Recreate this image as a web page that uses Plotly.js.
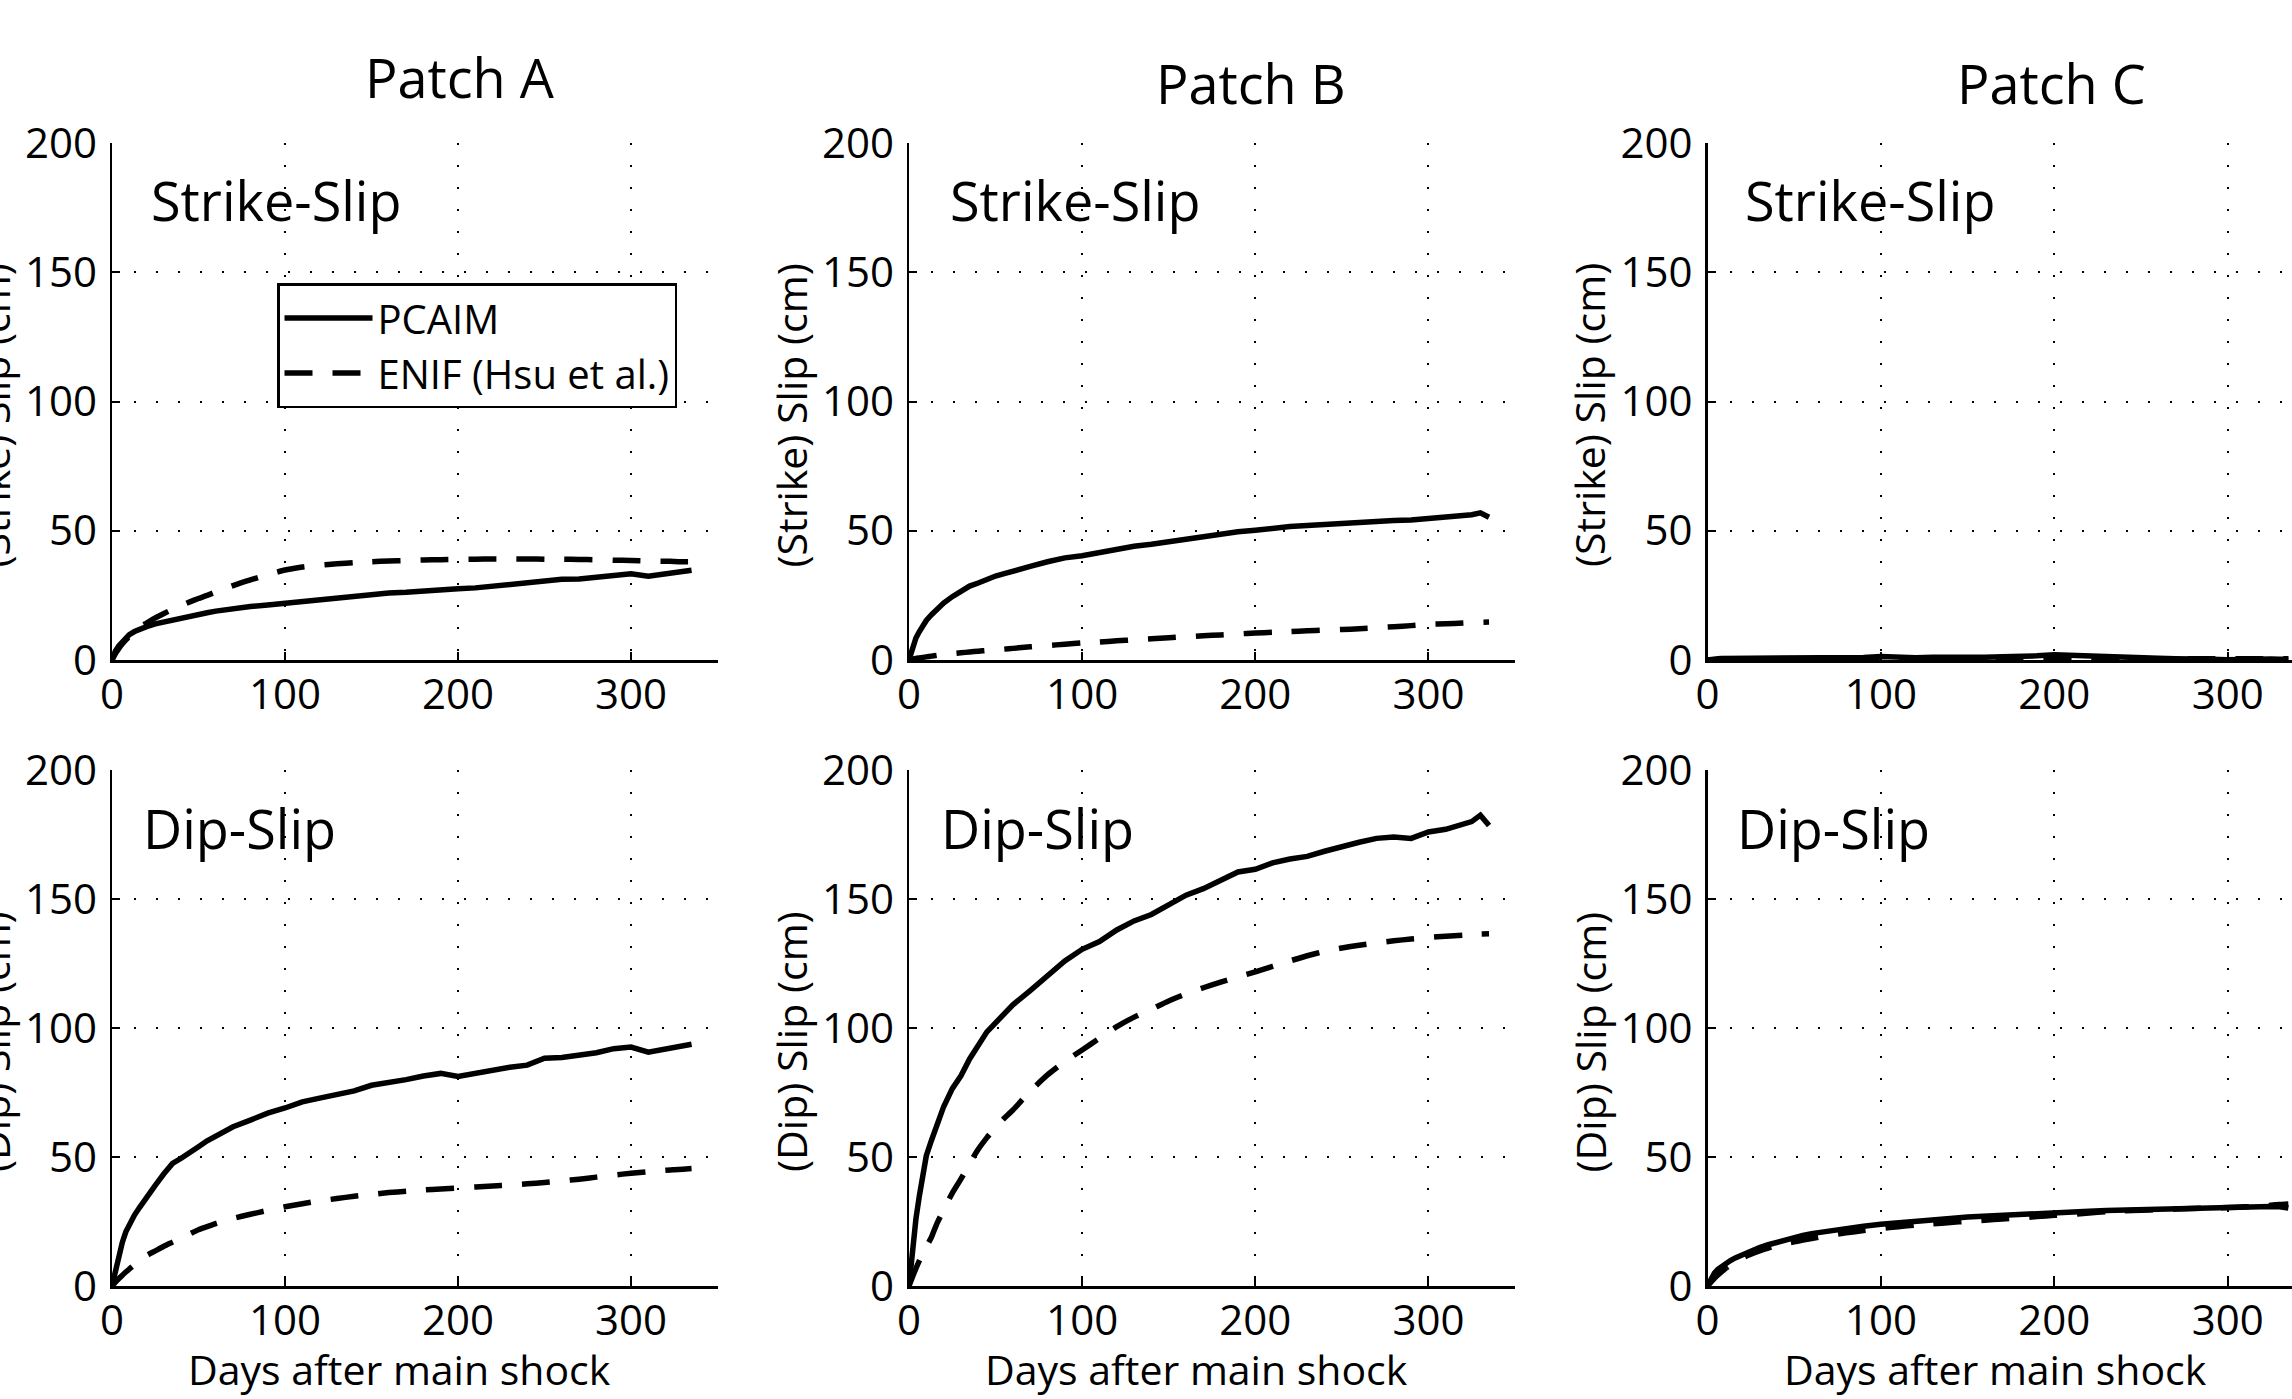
<!DOCTYPE html>
<html><head><meta charset="utf-8">
<script src="https://cdn.plot.ly/plotly-3.0.1.min.js"></script>
<style>html,body{margin:0;padding:0;background:#fff;}#chart{width:2292px;height:1399px;}</style>
</head><body><div id="chart"></div>
<script>
// ---------------- data ----------------
const days = [0,2,4,6,8,10,13,16,20,25,30,35,40,45,50,55,60,70,80,90,100,110,120,130,140,150,160,170,180,190,200,210,220,230,240,250,260,270,280,290,300,310,320,325,330,335];

const patchNames = ['Patch A', 'Patch B', 'Patch C'];
const componentLabels = ['Strike-Slip', 'Dip-Slip'];
const yAxisTitles = ['(Strike) Slip (cm)', '(Dip) Slip (cm)'];
const xAxisTitle = 'Days after main shock';
const seriesNames = ['PCAIM', 'ENIF (Hsu et al.)'];
const xTickVals = [0, 100, 200, 300];
const yTickVals = [0, 50, 100, 150, 200];

// Strike-slip, PCAIM
const pcaimStrikeA = [0,3.5,5.5,7.2,8.6,9.8,11,12,12.9,14,14.8,15.6,16.3,17,17.6,18.3,18.9,19.9,20.7,21.3,22,22.7,23.3,24.1,24.7,25.4,25.9,26.2,26.8,27.1,27.6,27.9,28.6,29.1,29.8,30.6,31.2,31.3,32,32.4,33.4,32.4,33.5,33.8,34.1,34.7];
const pcaimStrikeB = [0,5,8.5,11,13.5,15.3,17.5,19.5,22,24.5,26.8,28.6,29.8,31.2,32.5,33.4,34.5,36.2,38,39.5,40.3,41.5,43,44,44.8,45.8,46.9,47.8,48.5,49.6,50.2,51,51.6,52,52.4,52.9,53.6,53.9,54,54.2,54.7,55.4,55.7,56.2,56.9,55.2];
const pcaimStrikeC = [0,0.3,0.5,0.5,0.6,0.6,0.7,0.6,0.7,0.8,0.7,0.8,0.9,0.8,0.9,1.0,0.9,1.0,1.1,1.0,1.4,1.0,0.9,1.1,1.0,1.2,1.1,1.3,1.2,1.6,2.0,1.7,1.4,1.3,1.1,0.8,0.7,0.5,0.6,0.3,0.1,0.4,0.5,0.4,0.3,0.3];
// Strike-slip, ENIF
const enifStrikeA = [0,2.5,4.5,6.3,7.8,9.2,11,12.8,14.3,16.3,18,19.6,21.1,22.5,23.8,25,26.3,28.8,31,33,34.8,36,36.7,37.2,37.7,38,38.3,38.5,38.7,38.8,38.9,39,39.1,39.1,39.1,39,39,38.9,38.8,38.6,38.5,38.3,38.2,38.1,38,38];
const enifStrikeB = [0,0.3,0.6,0.8,1.0,1.2,1.5,1.8,2.1,2.5,2.8,3.1,3.4,3.7,3.9,4.2,4.5,5.1,5.6,6.1,6.6,7.0,7.4,7.8,8.2,8.6,9.0,9.4,9.7,10.1,10.4,10.7,11.0,11.3,11.6,11.8,12.1,12.5,12.9,13.3,13.8,14.0,14.3,14.5,14.6,14.7];
const enifStrikeC = [0,0.05,0.1,0.1,0.15,0.15,0.2,0.2,0.2,0.25,0.25,0.3,0.3,0.3,0.3,0.35,0.35,0.35,0.4,0.4,0.4,0.4,0.4,0.45,0.45,0.45,0.45,0.45,0.5,0.5,0.5,0.5,0.5,0.5,0.5,0.5,0.5,0.5,0.5,0.5,0.5,0.5,0.5,0.5,0.5,0.5];
// Dip-slip, PCAIM
const pcaimDipA = [0,6,11,17,21,24,27.5,30.5,34.5,39,43.5,47.5,49.5,52,54,56.3,58.2,61.7,64.3,67,69,71.4,72.8,74.2,75.6,77.8,78.7,80,81.4,82.4,81.2,82.4,84.1,84.8,85.6,88.3,88.6,89.5,90.4,92,92.6,90.6,92,92.8,93,93.7];
const pcaimDipB = [0,14,26,35,44,50.5,56.5,62,69.5,76.5,81.5,88,93.5,98.5,102,105.5,109,114.5,120,126,130.5,133.5,138,141.5,144,148,151.5,154,157,160.5,161.5,164,165.5,166.5,168.5,170.5,172,173.5,174,173.5,176,177,179,180,182.5,178.5];
const pcaimDipC = [0,3,5,6.5,7.5,8.6,9.8,10.9,12.2,13.7,14.9,16,17,18,18.9,19.6,20.3,21.4,22.4,23.2,23.9,24.6,25.2,25.7,26.2,26.7,27.1,27.5,27.8,28.1,28.4,28.7,29,29.3,29.5,29.7,29.9,30,30.1,30.3,30.4,30.6,30.9,30.8,30.7,30.2];
// Dip-slip, ENIF
const enifDipA = [0,1.5,2.9,4.2,5.4,6.6,8.3,10,11.8,13.6,15.4,17,18.6,20.2,21.8,23,24.2,26.2,27.8,29.3,30.7,31.9,33,33.9,34.8,35.5,36.2,36.7,37.2,37.6,38,38.4,38.8,39.2,39.6,40.1,40.7,41.4,42.2,43,43.7,44.3,44.9,45.1,45.3,45.5];
const enifDipB = [0,3.5,6.8,9.8,12.7,15.2,19,24,29.5,36,41.5,47.5,53,57.5,61.5,65,68.2,75.5,81.8,87,91.5,96,100.5,104.2,107.3,110.5,113.2,115.6,117.8,119.8,121.8,123.9,126,128,129.7,131,132.1,133,133.8,134.5,135.1,135.6,136,136.2,136.4,136.5];
const enifDipC = [0,1.5,3,4.3,5.5,6.6,8,9.3,10.8,12.3,13.6,14.7,15.6,16.4,17.1,17.8,18.4,19.6,20.6,21.5,22.3,23,23.6,24.1,24.6,25.1,25.5,26,26.4,26.9,27.4,27.8,28.3,28.8,29.1,29.4,29.6,29.8,30,30.2,30.4,30.7,31,31.3,31.6,31.8];

// ---------------- layout helpers ----------------
const W = 2292, H = 1399;
const FONT = 'Open Sans, sans-serif';
const colX = [[112, 717.5, 350], [909, 1515, 350], [1707.5, 2292, 337.1]]; // px left, px right, x max
const rowY = [[143, 660], [770, 1286]]; // px top (200), px bottom (0)

const pcaim = [[pcaimStrikeA, pcaimStrikeB, pcaimStrikeC], [pcaimDipA, pcaimDipB, pcaimDipC]];
const enif = [[enifStrikeA, enifStrikeB, enifStrikeC], [enifDipA, enifDipB, enifDipC]];

const traces = [];
const layout = {
  width: W, height: H,
  margin: {l: 0, r: 0, t: 0, b: 0},
  paper_bgcolor: '#fff', plot_bgcolor: 'rgba(0,0,0,0)',
  font: {family: FONT, color: '#000', size: 42},
  showlegend: true,
  legend: {
    x: 277 / W, y: 1 - 283 / H, xanchor: 'left', yanchor: 'top',
    bgcolor: '#fff', bordercolor: '#000', borderwidth: 2.5,
    font: {family: FONT, size: 40, color: '#000'},
    tracegroupgap: 0, itemwidth: 88
  },
  annotations: []
};

let n = 0;
for (let r = 0; r < 2; r++) {
  for (let c = 0; c < 3; c++) {
    n++;
    const xa = n === 1 ? 'x' : 'x' + n;
    const ya = n === 1 ? 'y' : 'y' + n;
    traces.push({
      x: days, y: pcaim[r][c], xaxis: xa, yaxis: ya, type: 'scatter', mode: 'lines',
      name: seriesNames[0], legendgroup: 'p', showlegend: n === 1,
      line: {color: '#000', width: 5.5}
    });
    traces.push({
      x: days, y: enif[r][c], xaxis: xa, yaxis: ya, type: 'scatter', mode: 'lines',
      name: seriesNames[1], legendgroup: 'e', showlegend: n === 1,
      line: {color: '#000', width: 5.5, dash: '28px,20px', shape: 'spline', smoothing: 0.6}
    });
    const common = {
      showline: true, linecolor: '#000', linewidth: 2.5,
      ticks: 'inside', ticklen: 8, tickwidth: 2, tickcolor: '#000',
      showgrid: true, gridcolor: '#000', gridwidth: 2, griddash: '2px,20px',
      zeroline: false, fixedrange: true, automargin: false,
      tickfont: {family: FONT, size: 42, color: '#000'}
    };
    layout['xaxis' + (n === 1 ? '' : n)] = Object.assign({}, common, {
      domain: [colX[c][0] / W, colX[c][1] / W],
      range: [0, colX[c][2]], tickvals: xTickVals, ticktext: xTickVals.map(String),
      anchor: ya, ticklabelstandoff: -4
    });
    layout['yaxis' + (n === 1 ? '' : n)] = Object.assign({}, common, {
      domain: [1 - rowY[r][1] / H, 1 - rowY[r][0] / H],
      range: [0, 200], tickvals: yTickVals, ticktext: yTickVals.map(String),
      anchor: xa, ticklabelstandoff: 4
    });
    // y-axis title (rotated), placed left of the tick labels
    layout.annotations.push({
      text: yAxisTitles[r], xref: 'paper', yref: 'paper', textangle: -90,
      x: (colX[c][0] - 118) / W, y: 1 - ((rowY[r][0] + rowY[r][1]) / 2 + 14) / H,
      xanchor: 'center', yanchor: 'middle', showarrow: false,
      font: {family: FONT, size: 41, color: '#000'}
    });
    // x-axis title for the bottom row
    if (r === 1) {
      layout.annotations.push({
        text: xAxisTitle, xref: 'paper', yref: 'paper',
        x: ((colX[c][0] + colX[c][0] + 605) / 2 - 15) / W, y: 1 - 1369 / H,
        xanchor: 'center', yanchor: 'middle', showarrow: false,
        font: {family: FONT, size: 41, color: '#000'}
      });
    }
    // panel label
    const lblLeft = r === 0 ? [149, 948, 1743][c] : [141, 939, 1735][c];
    const lblMid = r === 0 ? 200 : 828;
    layout.annotations.push({
      text: componentLabels[r], xref: 'paper', yref: 'paper',
      x: lblLeft / W, y: 1 - lblMid / H, xanchor: 'left', yanchor: 'middle',
      showarrow: false, font: {family: FONT, size: 54, color: '#000'}
    });
  }
}
// patch titles
const titleCx = [460, 1251, 2051];
const titleCy = [77, 83, 83];
for (let c = 0; c < 3; c++) {
  layout.annotations.push({
    text: patchNames[c], xref: 'paper', yref: 'paper',
    x: titleCx[c] / W, y: 1 - titleCy[c] / H, xanchor: 'center', yanchor: 'middle',
    showarrow: false, font: {family: FONT, size: 54, color: '#000'}
  });
}

Plotly.newPlot('chart', traces, layout, {displayModeBar: false, staticPlot: true});
</script>
</body></html>
